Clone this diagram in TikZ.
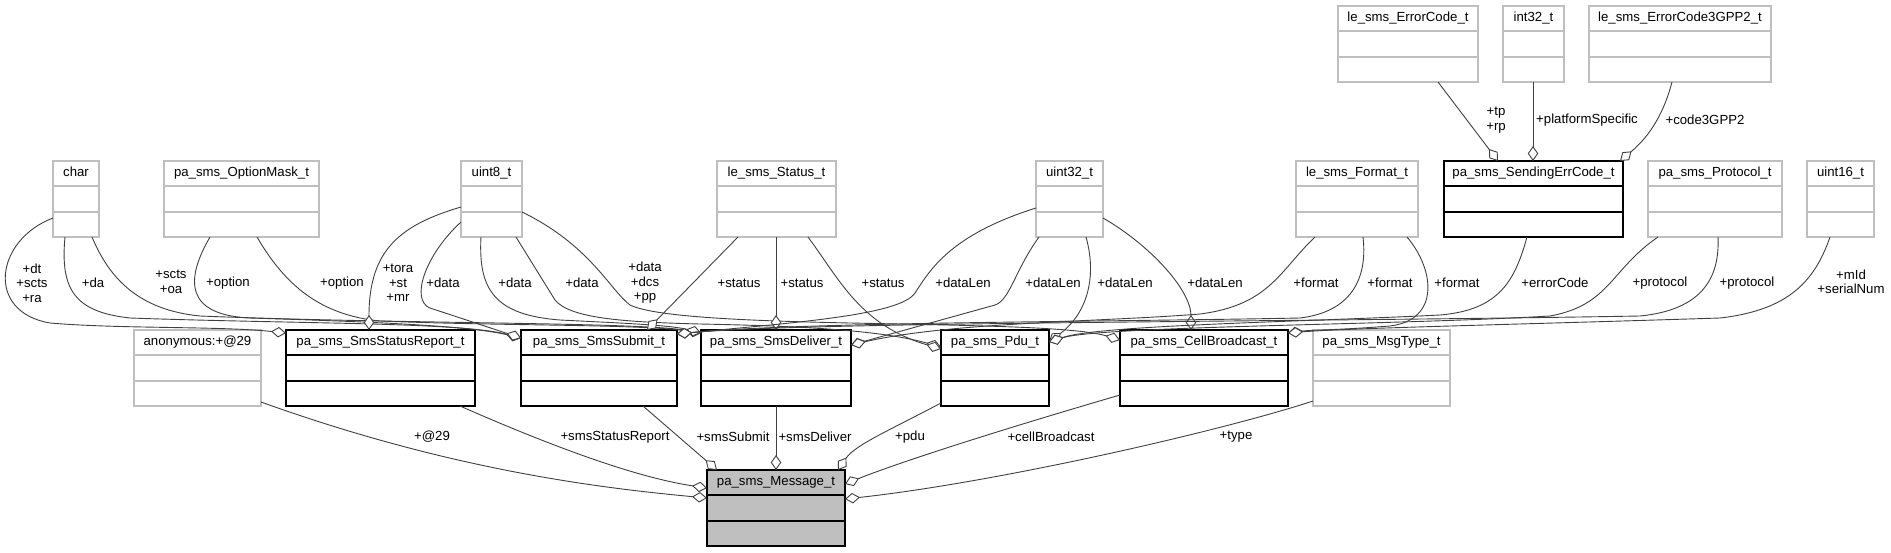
\documentclass[tikz,border=0pt]{standalone}
\usepackage{fontspec}
\setmainfont{Liberation Sans}
\usetikzlibrary{arrows.meta,calc}
\definecolor{boxgray}{HTML}{BFBFBF}
\definecolor{edgecol}{HTML}{404040}
\definecolor{msgfill}{HTML}{BFBFBF}
\newcommand\umlbox[7]{%
  \node[boxnode,#6,minimum width=#4pt,anchor=north west] (#1) at (#2,#3) {};
  \node[boxtext] (#1-t) at ($(#1.north)+(0,12.5)$) {#5};
  \draw[boxline,draw=#7] ($(#1.north west)+(0,25)$) -- ($(#1.north east)+(0,25)$);
  \draw[boxline,draw=#7] ($(#1.north west)+(0,51)$) -- ($(#1.north east)+(0,51)$);
}
\begin{document}
\begin{tikzpicture}[x=1pt,y=-1pt,
  every node/.style={font=\fontsize{13.2pt}{14.5pt}\selectfont, inner sep=0pt, outer sep=0pt},
  boxnode/.style={rectangle, minimum height=76pt, line width=1.3pt},
  boxtext/.style={text height=9.5pt, text depth=2.8pt},
  boxline/.style={line width=1.3pt},
  conn/.style={draw=edgecol, line width=0.9pt, -{Diamond[length=15pt,width=10.5pt,fill=white,line width=0.9pt]}},
  lbl/.style={align=center}
]
\useasboundingbox (0,0) rectangle (1891,552);
% top-top row
\umlbox{errc}{1338}{6}{140}{le\_sms\_ErrorCode\_t}{draw=boxgray,fill=white}{boxgray}
\umlbox{i32}{1503}{6}{61}{int32\_t}{draw=boxgray,fill=white}{boxgray}
\umlbox{e3g}{1589}{6}{182}{le\_sms\_ErrorCode3GPP2\_t}{draw=boxgray,fill=white}{boxgray}
% top row
\umlbox{chr}{53}{161}{46}{char}{draw=boxgray,fill=white}{boxgray}
\umlbox{opt}{164}{161}{155}{pa\_sms\_OptionMask\_t}{draw=boxgray,fill=white}{boxgray}
\umlbox{u8}{461}{161}{61}{uint8\_t}{draw=boxgray,fill=white}{boxgray}
\umlbox{sts}{717}{161}{119}{le\_sms\_Status\_t}{draw=boxgray,fill=white}{boxgray}
\umlbox{u32}{1036}{161}{67}{uint32\_t}{draw=boxgray,fill=white}{boxgray}
\umlbox{fmt}{1296}{161}{122}{le\_sms\_Format\_t}{draw=boxgray,fill=white}{boxgray}
\umlbox{sec}{1444}{161}{179}{pa\_sms\_SendingErrCode\_t}{draw=black,fill=white}{black}
\umlbox{pro}{1648}{161}{134}{pa\_sms\_Protocol\_t}{draw=boxgray,fill=white}{boxgray}
\umlbox{u16}{1807}{161}{67}{uint16\_t}{draw=boxgray,fill=white}{boxgray}
% middle row
\umlbox{anon}{134}{330}{127}{anonymous:+@29}{draw=boxgray,fill=white}{boxgray}
\umlbox{sr}{286}{330}{189}{pa\_sms\_SmsStatusReport\_t}{draw=black,fill=white}{black}
\umlbox{sub}{521}{330}{156}{pa\_sms\_SmsSubmit\_t}{draw=black,fill=white}{black}
\umlbox{del}{701}{330}{150}{pa\_sms\_SmsDeliver\_t}{draw=black,fill=white}{black}
\umlbox{pdu}{941}{330}{108}{pa\_sms\_Pdu\_t}{draw=black,fill=white}{black}
\umlbox{cb}{1120}{330}{168}{pa\_sms\_CellBroadcast\_t}{draw=black,fill=white}{black}
\umlbox{mt}{1313}{330}{137}{pa\_sms\_MsgType\_t}{draw=boxgray,fill=white}{boxgray}
% bottom
\umlbox{msg}{707}{470}{138}{pa\_sms\_Message\_t}{draw=black,fill=msgfill}{black}

% ---- top edges
\draw[conn] ($(errc.south west)+(100,0)$) -- ($(sec.north west)+(54,0)$);
\draw[conn] ($(i32.south west)+(30,0)$) -- ($(sec.north west)+(89,0)$);
\draw[conn] ($(e3g.south west)+(83,0)$) .. controls (1662,120) and (1645,140) .. ($(sec.north east)+(-3,0)$);

% ---- middle edges
\draw[conn] ($(chr.north west)+(0,57)$) .. controls (-5,240) and (-15,312) .. (50,323) .. controls (120,329) and (220,326) .. ($(sr.north west)+(0,3)$);
\draw[conn] ($(chr.south west)+(12,0)$) .. controls (60,290) and (75,312) .. (130,318) .. controls (300,324) and (460,322) .. ($(sub.north west)+(0,8)$);
\draw[conn] ($(chr.south west)+(39,0)$) .. controls (110,280) and (140,310) .. (200,316) .. controls (400,324) and (640,322) .. ($(del.north west)+(0,3)$);
\draw[conn] ($(opt.south west)+(46,0)$) .. controls (185,280) and (185,315) .. (250,318) .. controls (380,322) and (470,326) .. ($(sub.north west)+(0,8)$);
\draw[conn] ($(opt.south east)+(-62,0)$) .. controls (285,285) and (320,315) .. (380,321) .. controls (500,326) and (640,324) .. ($(del.north west)+(0,3)$);
\draw[conn] ($(u8.north west)+(0,46)$) .. controls (400,225) and (369,250) .. ($(sr.north west)+(83,0)$);
\draw[conn] ($(u8.north west)+(0,61)$) .. controls (425,255) and (410,300) .. (430,308) -- ($(sub.north west)+(0,8)$);
\draw[conn] ($(u8.south west)+(20,0)$) .. controls (478,290) and (495,315) .. (560,320) .. controls (620,323) and (670,325) .. ($(del.north west)+(0,3)$);
\draw[conn] ($(u8.south east)+(-6,0)$) -- (555,300) .. controls (570,318) and (620,322) .. (700,324) .. controls (800,326) and (880,330) .. ($(pdu.north west)+(0,17)$);
\draw[conn] ($(u8.north east)+(0,51)$) .. controls (590,245) and (610,290) .. (630,305) .. controls (660,320) and (800,322) .. (900,324) .. controls (1000,326) and (1080,328) .. ($(cb.north west)+(0,10)$);
\draw[conn] ($(sts.south west)+(21,0)$) -- ($(sub.north west)+(126,0)$);
\draw[conn] ($(sts.south west)+(59,0)$) -- ($(del.north west)+(75,0)$);
\draw[conn] ($(sts.south east)+(-28,0)$) .. controls (840,280) and (860,325) .. ($(pdu.north west)+(0,19)$);
\draw[conn] ($(u32.north west)+(0,47)$) .. controls (950,235) and (930,270) .. (915,293) .. controls (900,315) and (800,322) .. ($(sub.north east)+(0,4)$);
\draw[conn] ($(u32.south west)+(3,0)$) .. controls (1015,270) and (1010,300) .. (995,305) -- ($(del.north east)+(0,15)$);
\draw[conn] ($(u32.south west)+(50,0)$) .. controls (1098,280) and (1085,315) .. ($(pdu.north east)+(0,12)$);
\draw[conn] ($(u32.north east)+(0,57)$) .. controls (1150,245) and (1191,290) .. ($(cb.north west)+(71,0)$);
\draw[conn] ($(fmt.south west)+(19,0)$) .. controls (1280,270) and (1270,305) .. (1200,314) .. controls (1100,322) and (950,322) .. ($(del.north east)+(0,15)$);
\draw[conn] ($(fmt.south west)+(67,0)$) .. controls (1368,280) and (1350,312) .. (1300,318) .. controls (1100,322) and (800,322) .. ($(sub.north east)+(0,4)$);
\draw[conn] ($(fmt.south east)+(-11,0)$) .. controls (1435,270) and (1440,320) .. (1390,326) .. controls (1340,330) and (1310,330) .. ($(cb.north east)+(0,3)$);
\draw[conn] ($(sec.south west)+(83,0)$) .. controls (1515,280) and (1500,310) .. (1440,315) .. controls (1300,322) and (1100,325) .. ($(pdu.north east)+(0,12)$);
\draw[conn] ($(pro.south west)+(10,0)$) .. controls (1610,270) and (1610,305) .. (1550,316) .. controls (1400,325) and (1100,326) .. ($(pdu.north east)+(0,12)$);
\draw[conn] ($(pro.south west)+(70,0)$) .. controls (1720,280) and (1700,310) .. (1640,316) .. controls (1300,322) and (800,322) .. ($(sub.north east)+(0,4)$);
\draw[conn] ($(u16.south west)+(23,0)$) .. controls (1815,280) and (1790,310) .. (1720,318) .. controls (1500,325) and (1350,328) .. ($(cb.north east)+(0,3)$);

% ---- bottom edges
\draw[conn] ($(anon.south east)+(0,-4)$) .. controls (450,470) and (600,488) .. ($(msg.north west)+(0,28)$);
\draw[conn] ($(sr.south east)+(-15,0)$) .. controls (560,450) and (640,478) .. ($(msg.north west)+(0,18)$);
\draw[conn] ($(sub.south west)+(122,0)$) -- ($(msg.north west)+(10,0)$);
\draw[conn] ($(del.south west)+(75,0)$) -- ($(msg.north west)+(69,0)$);
\draw[conn] ($(pdu.south west)+(0,-3)$) .. controls (890,430) and (855,445) .. ($(msg.north east)+(-7,0)$);
\draw[conn] ($(cb.south west)+(0,-11)$) .. controls (1000,430) and (900,462) .. ($(msg.north east)+(0,14)$);
\draw[conn] ($(mt.south west)+(0,-5)$) .. controls (1225,430) and (1000,482) .. ($(msg.north east)+(0,29)$);

% ---- labels
\node[lbl] (l-tp) at (1496,120) {+tp\\+rp};
\node[lbl] (l-ps) at (1587,120) {+platformSpecific};
\node[lbl] (l-3g) at (1705,120) {+code3GPP2};

\node[lbl] (l1) at (32,283) {+dt\\+scts\\+ra};
\node[lbl] (l2) at (93,283) {+da};
\node[lbl] (l3) at (171,282) {+scts\\+oa};
\node[lbl] (l4) at (228,283) {+option};
\node[lbl] (l5) at (342,283) {+option};
\node[lbl] (l6) at (398,283) {+tora\\+st\\+mr};
\node[lbl] (l7) at (443,283) {+data};
\node[lbl] (l8) at (515,283) {+data};
\node[lbl] (l9) at (582,283) {+data};
\node[lbl] (l10) at (645,283) {+data\\+dcs\\+pp};
\node[lbl] (l11) at (739,283) {+status};
\node[lbl] (l12) at (802,283) {+status};
\node[lbl] (l13) at (883,283) {+status};
\node[lbl] (l14) at (963,283) {+dataLen};
\node[lbl] (l15) at (1053,283) {+dataLen};
\node[lbl] (l16) at (1125,283) {+dataLen};
\node[lbl] (l17) at (1215,283) {+dataLen};
\node[lbl] (l18) at (1316,283) {+format};
\node[lbl] (l19) at (1390,283) {+format};
\node[lbl] (l20) at (1457,283) {+format};
\node[lbl] (l21) at (1555,283) {+errorCode};
\node[lbl] (l22) at (1660,283) {+protocol};
\node[lbl] (l23) at (1747,283) {+protocol};
\node[lbl] (l24) at (1851,282) {+mId\\+serialNum};

\node[lbl] (b1) at (432,437) {+@29};
\node[lbl] (b2) at (615,437) {+smsStatusReport};
\node[lbl] (b3) at (733,437) {+smsSubmit};
\node[lbl] (b4) at (815,437) {+smsDeliver};
\node[lbl] (b5) at (910,437) {+pdu};
\node[lbl] (b6) at (1051,437) {+cellBroadcast};
\node[lbl] (b7) at (1236,437) {+type};
\end{tikzpicture}
\end{document}
